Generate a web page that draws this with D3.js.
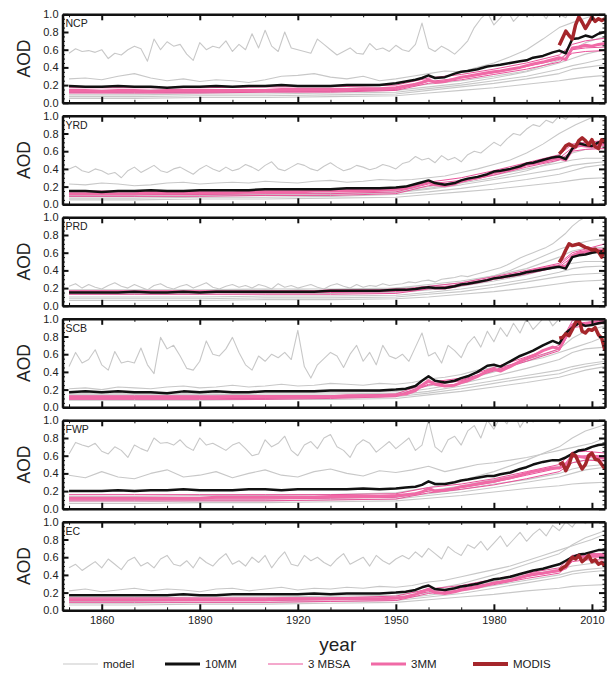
<!DOCTYPE html>
<html>
<head>
<meta charset="utf-8">
<script src="https://cdn.jsdelivr.net/npm/d3@7"></script>
<style>
  body { margin: 0; background: #fff; }
  text { font-family: "Liberation Sans", Arial, sans-serif; fill: #222; }
</style>
</head>
<body>
<svg id="chart" width="615" height="673"></svg>
<script>
// ---- data (AOD x100) ----
const regions = ["NCP", "YRD", "PRD", "SCB", "FWP", "EC"];

const yearsNoisy = d3.range(1850, 2015, 2);
const yearsMid = [1850,1855,1860,1865,1870,1875,1880,1885,1890,1895,1900,1905,1910,1915,1920,1925,1930,1935,1940,1945,1950,
  1955,1960,1965,1970,1975,1980,1985,1990,1995,2000,2005,2010,2014];
const yearsLow = [1850,1870,1890,1910,1930,1950,1960,1970,1980,1990,2000,2004,2008,2014];
const yearsMM = [1850,1855,1860,1865,1870,1875,1880,1885,1890,1895,1900,1905,1910,1915,1920,1925,1930,1935,1940,1945,1950,
  1953,1956,1958,1960,1962,1965,1968,1970,1972,1975,1978,1980,1982,1985,1988,1990,1992,1995,1998,2000,2002,2004,2006,2008,2010,2012,2014];
const yearsModis = [2000,2001,2002,2003,2004,2005,2006,2007,2008,2009,2010,2011,2012,2013,2014];

// noisiest model, every 2 years
const modelNoisy = [
  "56 61 58 59 57 60 50 56 54 60 64 61 47 72 60 69 64 66 55 48 68 60 64 62 70 58 " +
  "66 60 78 62 82 64 58 80 62 60 58 56 72 66 60 54 58 62 56 55 67 60 62 58 65 " +
  "60 58 66 90 62 58 64 60 55 62 70 85 95 102 88 96 105 92 100 110 98 104 95 108 100 96 110 105 100 112 104 108",
  "40 43 38 36 40 38 34 36 30 38 42 36 40 44 38 36 40 42 38 34 40 44 40 37 42 38 " +
  "40 45 42 38 44 48 40 38 42 46 44 40 38 43 47 42 38 40 44 42 39 41 45 43 40 " +
  "46 48 54 50 52 47 55 50 53 48 56 60 58 64 70 66 74 80 78 85 90 88 95 92 100 96 104 98 106 100 108 104",
  "22 25 20 24 21 19 23 26 22 20 24 21 18 23 25 21 19 22 24 20 23 26 21 19 22 24 " +
  "21 23 20 24 22 19 25 21 23 20 22 24 21 19 23 25 22 20 24 21 23 22 25 23 24 " +
  "25 27 26 28 29 27 30 31 32 34 33 35 37 39 41 43 46 50 54 57 60 63 66 70 76 82 90 96 100 104 102 106",
  "46 62 50 54 65 48 42 63 50 52 50 67 48 38 79 66 70 58 44 42 52 75 60 58 66 79 " +
  "62 48 42 58 52 60 56 62 54 87 46 33 48 55 62 58 45 60 70 52 62 48 70 58 55 " +
  "60 52 68 84 58 62 50 70 64 56 72 80 68 86 74 90 80 95 84 100 88 96 104 92 100 108 98 104 110 100 106 112",
  "62 75 72 70 74 65 62 70 66 58 72 68 65 80 74 75 72 78 70 66 80 72 74 70 66 72 " +
  "75 68 60 62 78 70 74 82 66 60 72 76 68 80 84 70 66 58 72 78 74 64 70 76 68 " +
  "74 80 66 72 100 70 64 78 82 72 88 94 80 100 90 104 96 110 92 104 98 108 100 112 96 104 108 100 112 104 106 110",
  "48 52 45 50 55 48 58 52 46 56 60 50 54 48 58 62 52 50 56 48 60 54 50 58 64 52 " +
  "56 50 60 54 62 48 58 66 52 50 62 56 60 54 50 58 64 52 56 60 50 62 56 52 58 " +
  "62 58 66 60 70 64 58 72 66 62 74 70 78 68 76 84 72 80 88 78 86 92 84 96 90 100 94 104 98 106 100 108"
];

// second-highest model, every 5 years
const modelMid = [
  "27 28 26 30 33 28 25 27 24 26 25 23 26 30 31 33 29 27 30 25 27 30 33 36 35 40 45 52 60 72 85 92 98 104",
  "23 22 24 23 21 22 24 25 23 24 25 24 26 25 24 26 27 25 26 28 27 28 30 32 36 40 45 50 58 68 80 90 98 102",
  "15 16 15 17 16 15 17 16 16 17 16 17 18 17 18 17 18 18 19 19 20 21 22 24 26 30 34 40 48 56 64 70 74 76",
  "21 22 20 23 22 21 23 24 22 23 25 23 24 26 24 25 27 26 25 27 26 28 32 34 37 42 45 48 52 56 62 68 74 80",
  "38 35 42 36 34 40 44 36 38 42 35 40 44 38 36 42 45 40 37 43 41 44 48 42 46 50 52 55 58 62 66 70 74 80",
  "22 24 21 23 25 22 24 23 21 24 25 22 24 26 23 25 24 26 25 27 26 28 32 34 38 42 46 50 56 62 68 74 80 86"
];

// the other, smoother models
const modelLow = [
  ["12 11 12 12 13 14 18 22 28 35 45 50 55 60", "9 9 10 10 11 12 16 20 25 30 38 42 45 50",
   "7 7 8 8 9 10 14 18 22 27 33 38 40 43", "5 5 6 6 7 8 11 14 17 21 25 27 29 31",
   "14 14 15 15 16 17 21 25 30 36 48 60 68 75"],
  ["12 12 13 13 14 16 20 26 33 40 47 50 52 52", "9 9 10 10 11 13 17 22 28 34 40 44 46 48",
   "7 7 8 8 9 11 14 18 23 28 34 38 42 45", "5 5 6 6 7 8 11 14 17 21 25 27 29 30",
   "10 10 11 11 12 14 18 24 30 38 50 58 62 65"],
  ["13 13 13 14 14 15 18 22 28 35 45 48 50 50", "10 10 10 11 11 12 15 19 24 30 38 42 44 45",
   "8 8 8 9 9 10 13 16 21 27 33 35 36 37", "6 6 6 7 7 8 10 13 16 20 25 27 28 29",
   "18 18 18 19 19 20 24 28 34 42 55 62 65 66"],
  ["12 12 12 13 13 14 18 24 30 36 42 46 49 52", "10 10 10 11 11 12 16 21 27 33 38 43 46 50",
   "8 8 8 9 9 10 14 18 23 28 34 38 42 46", "14 14 14 15 15 16 21 27 35 44 54 62 66 68",
   "16 16 16 17 17 18 24 30 40 52 66 78 86 92"],
  ["10 10 11 11 12 13 17 22 28 33 40 45 48 50", "8 8 9 9 10 11 15 19 24 30 36 40 44 47",
   "6 6 7 7 8 9 12 15 19 23 26 28 29 30", "12 12 13 13 14 15 20 26 33 40 48 52 55 58",
   "14 14 15 15 16 18 24 32 42 55 70 80 88 95"],
  ["10 10 11 11 12 13 17 22 28 34 40 44 46 48", "8 8 9 9 10 11 15 19 25 31 37 41 43 45",
   "6 6 7 7 8 9 12 15 18 22 25 27 28 29", "12 12 13 13 14 15 20 26 33 40 46 50 52 55",
   "14 14 15 15 16 17 23 30 40 52 64 74 82 90"]
];

const mm10 = [
  "19 18 18 19 18 18 17 18 18 19 18 19 19 20 19 19 19 20 20 20 22 24 26 28 31 28 29 33 35 36 38 41 42 43 45 47 48 51 53 57 59 56 72 73 76 74 78 80",
  "15 15 14 15 15 16 15 15 16 16 16 16 17 17 17 17 17 18 18 18 19 20 23 25 27 24 22 24 27 29 31 34 37 38 40 43 46 47 50 53 54 51 63 69 67 66 70 72",
  "15 15 15 15 16 15 15 16 15 16 16 16 16 16 16 16 17 17 17 17 18 18 19 20 21 20 20 22 24 25 27 29 31 32 34 36 38 39 41 43 44 42 55 57 58 60 61 62",
  "17 18 17 18 17 17 16 18 17 18 17 17 18 18 18 18 19 19 19 19 20 21 24 30 35 30 28 30 33 35 40 47 48 46 52 58 61 64 70 75 72 84 90 95 92 93 95 96",
  "20 20 20 21 20 21 21 22 21 21 21 22 22 21 22 22 22 22 23 22 23 24 25 27 31 28 28 30 32 33 35 37 37 39 41 45 47 50 53 55 55 58 62 66 67 70 72 73",
  "17 17 17 17 17 17 17 18 17 17 18 18 18 18 18 19 18 19 19 19 20 21 23 26 28 24 23 25 27 28 30 33 35 36 38 41 43 45 47 50 52 56 60 63 64 66 68 68"
];

const mm3 = [
  "14 14 13 14 14 13 14 14 14 14 14 14 14 15 15 15 15 15 16 16 17 19 21 23 26 23 24 27 29 30 32 34 35 36 38 40 42 44 46 49 51 49 62 63 65 64 66 67",
  "12 12 12 12 12 13 13 13 13 13 13 14 14 14 14 15 15 15 15 16 17 18 21 23 25 22 21 23 26 28 30 33 36 37 39 42 45 46 48 51 52 50 62 67 66 65 68 68",
  "16 16 16 16 16 16 16 16 16 16 16 16 16 16 16 16 17 17 17 17 18 18 19 20 21 20 20 22 24 25 27 29 31 32 34 36 38 40 42 44 45 44 56 60 61 62 63 63",
  "11 11 11 11 11 11 11 11 11 11 12 12 12 12 12 12 12 13 13 13 14 15 19 25 30 26 24 25 28 30 35 41 43 41 46 52 55 58 64 68 66 80 93 95 94 96 97 98",
  "12 12 12 12 12 12 12 12 12 13 13 13 13 13 13 13 14 14 14 14 15 16 17 19 23 20 21 23 25 26 28 30 31 33 35 38 40 42 44 46 46 50 60 59 58 60 58 57",
  "12 12 12 12 12 12 12 12 12 12 12 12 12 13 13 13 13 13 13 13 14 15 18 21 24 20 19 21 23 24 26 29 31 32 34 37 39 41 42 44 45 48 58 60 61 62 62 62"
];

const mbsa = [
  ["17 17 17 18 18 20 28 32 38 45 54 66 70 73", "12 12 12 13 13 15 24 28 34 41 49 60 62 63", "11 11 11 12 12 14 22 26 32 38 46 56 58 59"],
  ["15 15 15 16 16 18 25 30 38 47 56 68 70 72", "11 11 11 12 12 14 23 27 35 44 52 64 66 66", "9 9 9 10 10 12 21 25 33 42 50 60 62 63"],
  ["17 17 17 17 17 18 22 26 33 40 48 60 64 70", "15 15 15 15 15 16 20 24 31 38 46 58 62 64", "13 13 13 13 13 14 19 23 30 36 44 55 60 62"],
  ["13 13 13 13 13 15 28 33 45 57 70 98 100 102", "10 10 10 10 11 13 26 31 42 54 66 94 96 98", "9 9 9 9 10 12 25 30 41 52 64 90 92 95"],
  ["16 16 16 16 16 17 24 28 34 42 50 64 65 63", "11 11 11 11 12 13 20 24 30 38 46 58 60 60", "9 9 9 9 10 11 18 22 27 34 42 52 55 54"],
  ["14 14 14 14 14 16 24 28 35 42 48 62 64 64", "11 11 11 11 12 13 21 25 31 38 44 58 60 60", "9 9 9 9 10 11 19 23 29 36 42 55 57 57"]
];

const modis = [
  "65 73 81 76 72 88 97 91 84 90 97 92 95 93 95",
  "57 61 66 68 66 65 72 75 72 67 73 65 63 73 70",
  "49 55 63 70 68 69 70 68 66 65 63 64 61 55 65",
  "78 79 83 81 88 96 100 86 84 88 87 90 82 78 64",
  "50 52 43 50 62 60 52 45 50 60 63 56 55 50 45",
  "45 48 50 55 60 58 62 55 58 62 55 57 52 54 50"
];

const yTicks = [0, 0.2, 0.4, 0.6, 0.8, 1.0];
const xTicks = [1860, 1890, 1920, 1950, 1980, 2010];

// ---- drawing ----
const svg = d3.select("#chart");
const left = 62.5, right = 605, top0 = 14.3, pitch = 101.5, ph = 88.5;

const x = d3.scaleLinear().domain([1848, 2014]).range([left, right]);

const parse = s => s.trim().split(/\s+/).map(v => +v / 100);
const zip = (yrs, s) => {
  const v = parse(s);
  const n = Math.min(yrs.length, v.length);
  return d3.range(n).map(k => [yrs[k], v[k]]);
};

const colGray = "#c8c8c8", colPink = "#f06aa6", colThinPink = "#e9529a", colRed = "#a5262b";

regions.forEach((name, i) => {
  const top = top0 + i * pitch;
  const y = d3.scaleLinear().domain([0, 1]).range([top + ph, top]);
  const line = d3.line().x(d => x(d[0])).y(d => y(d[1]));

  svg.append("clipPath").attr("id", "clip" + i)
    .append("rect").attr("x", left).attr("y", top).attr("width", right - left).attr("height", ph);

  const g = svg.append("g").attr("clip-path", `url(#clip${i})`);

  const drawLine = (data, color, width) =>
    g.append("path").datum(data).attr("d", line)
      .attr("fill", "none").attr("stroke", color).attr("stroke-width", width)
      .attr("stroke-linejoin", "round");

  modelLow[i].forEach(s => drawLine(zip(yearsLow, s), colGray, 1.1));
  drawLine(zip(yearsMid, modelMid[i]), colGray, 1.1);
  drawLine(zip(yearsNoisy, modelNoisy[i]), colGray, 1.1);
  mbsa[i].forEach(s => drawLine(zip(yearsLow, s), colThinPink, 1));
  drawLine(zip(yearsMM, mm3[i]), colPink, 3);
  drawLine(zip(yearsMM, mm10[i]), "#111", 2.5);
  drawLine(zip(yearsModis, modis[i]), colRed, 3.5);

  // axes (ticks point inward)
  const ax = svg.append("g");
  const styleAxis = (sel, w) => {
    sel.select(".domain").attr("stroke", "#111").attr("stroke-width", 2.5);
    sel.selectAll(".tick line").attr("stroke", "#111").attr("stroke-width", w);
  };

  ax.append("g").attr("transform", `translate(${left},0)`)
    .call(d3.axisLeft(y).tickValues(d3.range(0, 1.001, 0.05)).tickSize(-2.5).tickFormat(""))
    .call(s => { s.select(".domain").remove(); s.selectAll(".tick line").attr("stroke", "#111"); });
  ax.append("g").attr("transform", `translate(${right},0)`)
    .call(d3.axisRight(y).tickValues(d3.range(0, 1.001, 0.05)).tickSize(-2.5).tickFormat(""))
    .call(s => { s.select(".domain").remove(); s.selectAll(".tick line").attr("stroke", "#111"); });

  const yl = ax.append("g").attr("transform", `translate(${left},0)`)
    .call(d3.axisLeft(y).tickValues(yTicks).tickSizeInner(-6).tickSizeOuter(0).tickPadding(4).tickFormat(d3.format(".1f")))
    .call(s => styleAxis(s, 2));
  yl.selectAll(".tick text").attr("font-size", 11).attr("fill", "#222")
    .attr("font-family", '"Liberation Sans", Arial, sans-serif');
  ax.append("g").attr("transform", `translate(${right},0)`)
    .call(d3.axisRight(y).tickValues(yTicks).tickSizeInner(-6).tickSizeOuter(0).tickFormat(""))
    .call(s => styleAxis(s, 2));

  const minorX = d3.range(1850, 2014, 10).filter(v => !xTicks.includes(v));
  ax.append("g").attr("transform", `translate(0,${top + ph})`)
    .call(d3.axisBottom(x).tickValues(minorX).tickSize(-3).tickFormat(""))
    .call(s => { s.select(".domain").remove(); s.selectAll(".tick line").attr("stroke", "#111"); });
  ax.append("g").attr("transform", `translate(0,${top})`)
    .call(d3.axisTop(x).tickValues(minorX).tickSize(-3).tickFormat(""))
    .call(s => { s.select(".domain").remove(); s.selectAll(".tick line").attr("stroke", "#111"); });

  const xb = ax.append("g").attr("transform", `translate(0,${top + ph})`)
    .call(d3.axisBottom(x).tickValues(xTicks).tickSizeInner(-6).tickSizeOuter(0).tickPadding(6)
      .tickFormat(i === regions.length - 1 ? d3.format("d") : ""))
    .call(s => styleAxis(s, 2));
  xb.selectAll(".tick text").attr("font-size", 11).attr("fill", "#222")
    .attr("font-family", '"Liberation Sans", Arial, sans-serif');
  ax.append("g").attr("transform", `translate(0,${top})`)
    .call(d3.axisTop(x).tickValues(xTicks).tickSizeInner(-6).tickSizeOuter(0).tickFormat(""))
    .call(s => styleAxis(s, 2));

  svg.append("text").attr("x", left + 3).attr("y", top + 13)
    .attr("font-size", 10.5).text(name);

  svg.append("text")
    .attr("transform", `translate(30,${top + ph / 2}) rotate(-90)`)
    .attr("text-anchor", "middle").attr("font-size", 17.5).text("AOD");
});

svg.append("text").attr("x", (left + right) / 2 + 4).attr("y", 651)
  .attr("text-anchor", "middle").attr("font-size", 19).text("year");

// legend
const legendItems = [
  { label: "model", color: colGray, width: 1.1, x0: 63 },
  { label: "10MM", color: "#111", width: 2.8, x0: 165 },
  { label: "3 MBSA", color: colThinPink, width: 1, x0: 268 },
  { label: "3MM", color: colPink, width: 3, x0: 371 },
  { label: "MODIS", color: colRed, width: 4, x0: 473 }
];
const lg = svg.append("g");
legendItems.forEach(d => {
  lg.append("line").attr("x1", d.x0).attr("x2", d.x0 + 35).attr("y1", 664).attr("y2", 664)
    .attr("stroke", d.color).attr("stroke-width", d.width);
  lg.append("text").attr("x", d.x0 + 40).attr("y", 668).attr("font-size", 11.5).text(d.label);
});
</script>
</body>
</html>
